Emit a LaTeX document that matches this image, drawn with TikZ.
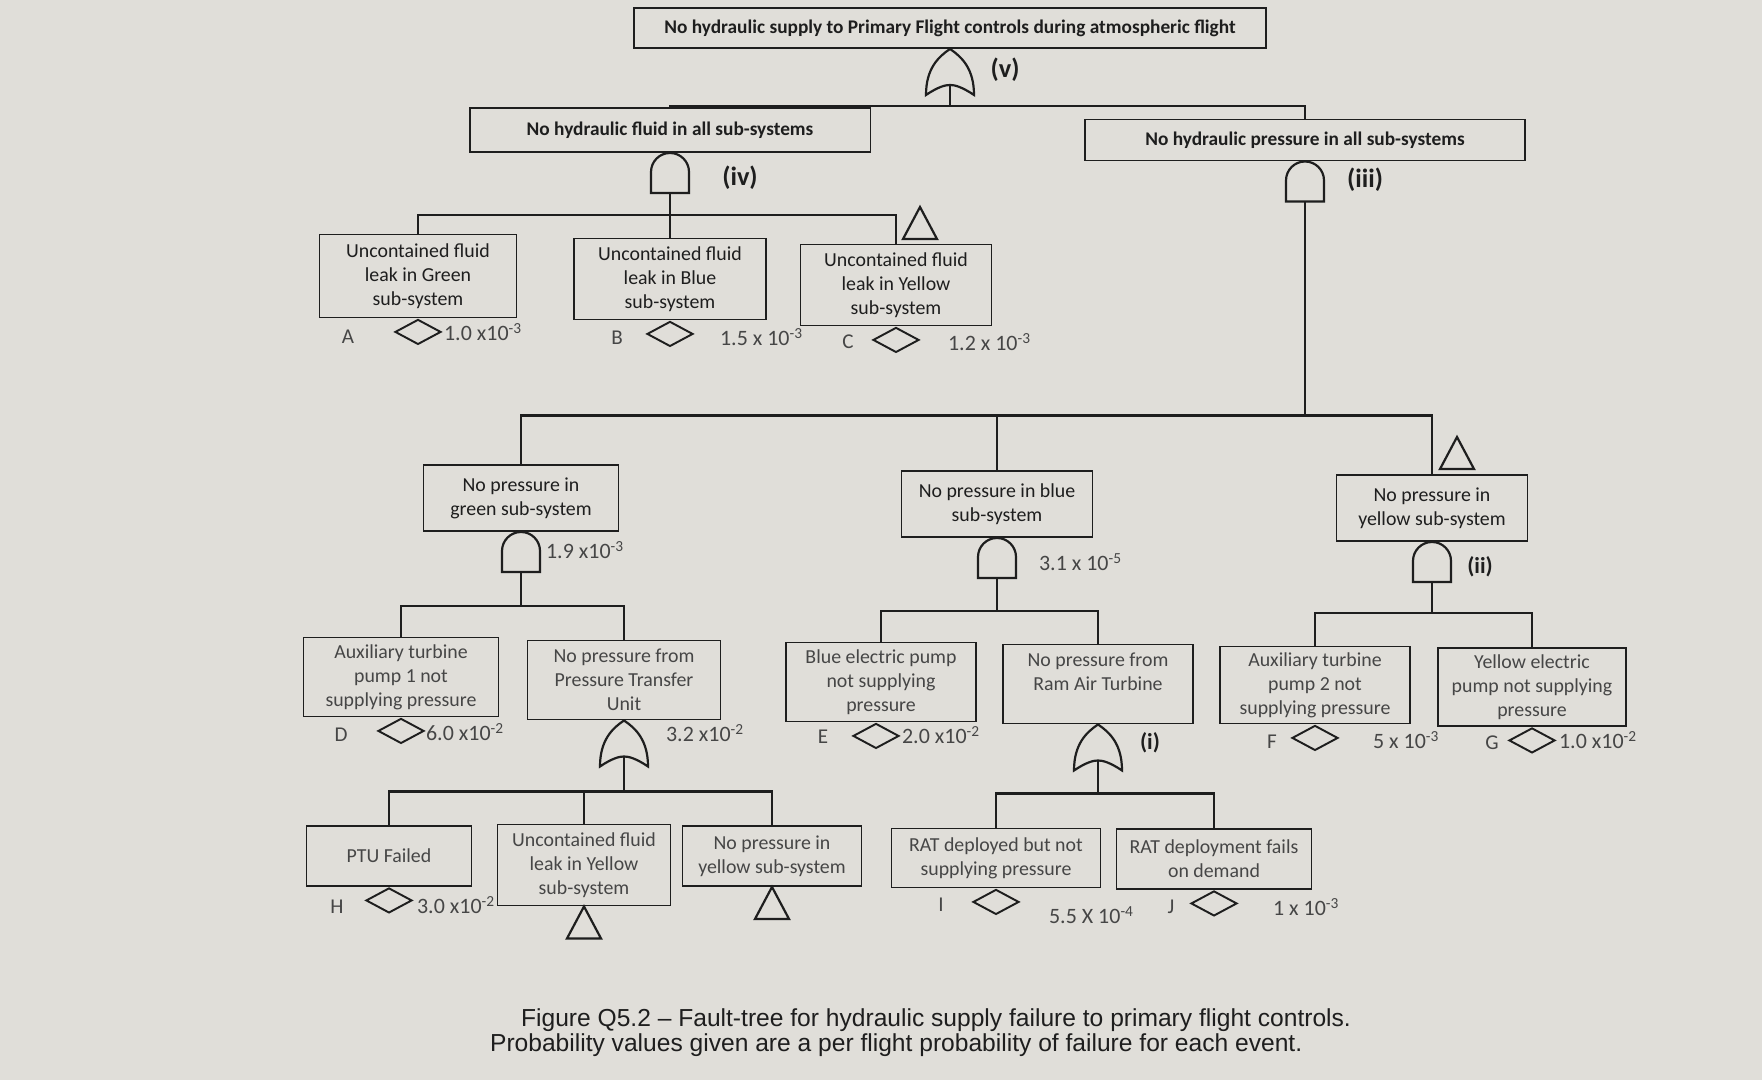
\documentclass[tikz,border=0pt]{standalone}
\usepackage{fontspec}
\setmainfont{Carlito}
\newfontfamily\capfont{Liberation Sans}
\usepackage{tikz}
\usetikzlibrary{shapes.geometric,positioning,calc}
\definecolor{ink}{RGB}{30,30,30}
\definecolor{softink}{RGB}{70,70,70}
\definecolor{paper}{RGB}{224,222,217}

\tikzset{
    andgate/.pic={
        \draw[fill=paper] (-19,40) -- (-19,19) .. controls (-19,8.5) and (-10.5,0) .. (0,0)
            .. controls (10.5,0) and (19,8.5) .. (19,19) -- (19,40) -- cycle;
        \coordinate (-out) at (0,0);
        \coordinate (-in) at (0,40);
    },
    orgate/.pic={
        \draw[fill=paper] (0,0) .. controls (-12,8) and (-24,20) .. (-24,46)
            .. controls (-12,38) and (-5,36) .. (0,36)
            .. controls (5,36) and (12,38) .. (24,46)
            .. controls (24,20) and (12,8) .. (0,0) -- cycle;
        \coordinate (-out) at (0,0);
        \coordinate (-in) at (0,36);
    },
    xfer/.pic={
        \draw (0,0) -- (17,32) -- (-17,32) -- cycle;
    }
}

\begin{document}
\begin{tikzpicture}[
    x=0.02cm, y=-0.02cm,
    line width=1.25pt, draw=ink,
    evt/.style={draw=ink, line width=1.1pt, align=center, font=\fontsize{11.3}{13.6}\selectfont, text=softink, minimum width=3.84cm, minimum height=1.6cm, inner sep=2pt},
    midevt/.style={evt, text=ink, minimum height=1.32cm},
    topevt/.style={evt, text=ink, font=\fontsize{11}{13}\selectfont\bfseries, minimum height=0.84cm},
    basic/.style={diamond, draw=ink, line width=1.1pt, minimum width=0.92cm, minimum height=0.5cm, inner sep=0pt, anchor=north},
    prob/.style={anchor=west, inner sep=0pt, font=\fontsize{12.5}{14}\selectfont, text=softink},
    tag/.style={inner sep=0pt, font=\fontsize{12}{14}\selectfont, text=softink},
    gatenum/.style={inner sep=0pt, font=\fontsize{15}{17}\selectfont\bfseries, text=ink},
    capline/.style={anchor=west, inner sep=0pt, font=\capfont\fontsize{14}{16}\selectfont, text=ink}
]
    \fill[paper] (0,0) rectangle (1762,1080);
    \useasboundingbox (0,0) rectangle (1762,1080);

    % Top event and first level
    \node[topevt, minimum width=12.66cm, minimum height=0.8cm] (top) at (950,28) {No hydraulic supply to Primary Flight controls during atmospheric flight};
    \node[topevt, minimum width=8.02cm, minimum height=0.88cm] (fluid) at (670,130) {No hydraulic fluid in all sub-systems};
    \node[topevt, minimum width=8.8cm, minimum height=0.82cm] (press) at (1305,140) {No hydraulic pressure in all sub-systems};

    % Fluid leaks
    \node[evt, text=ink, minimum width=3.94cm, minimum height=1.66cm] (evA) at (418,276) {Uncontained fluid\\leak in Green\\sub-system};
    \node[evt, text=ink, minimum height=1.62cm] (evB) at (670,279) {Uncontained fluid\\leak in Blue\\sub-system};
    \node[evt, text=ink, minimum width=3.82cm, minimum height=1.62cm] (evC) at (896,285) {Uncontained fluid\\leak in Yellow\\sub-system};

    % Pressure per sub-system
    \node[midevt, minimum width=3.9cm] (green) at (521,498) {No pressure in\\green sub-system};
    \node[midevt, minimum width=3.82cm] (blue) at (997,504) {No pressure in blue\\sub-system};
    \node[midevt, minimum width=3.82cm] (yellow) at (1432,508) {No pressure in\\yellow sub-system};

    % Pumps and sources
    \node[evt, minimum width=3.9cm, minimum height=1.58cm] (evD) at (401,677) {Auxiliary turbine\\pump 1 not\\supplying pressure};
    \node[evt, minimum width=3.86cm, minimum height=1.58cm] (ptu) at (624,680) {No pressure from\\Pressure Transfer\\Unit};
    \node[evt, minimum width=3.8cm, minimum height=1.58cm] (evE) at (881,682) {Blue electric pump\\not supplying\\pressure};
    \node[evt, minimum width=3.8cm, minimum height=1.58cm] (rat) at (1098,684) {No pressure from\\Ram Air Turbine\\~};
    \node[evt, minimum width=3.8cm, minimum height=1.54cm] (evF) at (1315,685) {Auxiliary turbine\\pump 2 not\\supplying pressure};
    \node[evt, minimum width=3.76cm, minimum height=1.56cm] (evG) at (1532,687) {Yellow electric\\pump not supplying\\pressure};

    % Bottom level
    \node[evt, minimum width=3.3cm, minimum height=1.2cm] (evH) at (389,856) {PTU Failed};
    \node[evt, minimum width=3.46cm, minimum height=1.62cm] (uy) at (584,865) {Uncontained fluid\\leak in Yellow\\sub-system};
    \node[evt, minimum width=3.58cm, minimum height=1.2cm] (npy) at (772,856) {No pressure in\\yellow sub-system};
    \node[evt, minimum width=4.18cm, minimum height=1.18cm] (evI) at (996,858) {RAT deployed but not\\supplying pressure};
    \node[evt, minimum width=3.9cm, minimum height=1.2cm] (evJ) at (1214,859) {RAT deployment fails\\on demand};

    % Gates
    \pic (g5) at (top.south) {orgate};
    \pic (g4) at (fluid.south) {andgate};
    \pic (g3) at (press.south) {andgate};
    \pic (gG) at (green.south) {andgate};
    \pic (gB) at (blue.south) {andgate};
    \pic (gY) at (yellow.south) {andgate};
    \pic (gP) at (ptu.south) {orgate};
    \pic (gR) at (rat.south) {orgate};

    \node[gatenum] (n5) at (1005,70) {(v)};
    \node[gatenum] (n4) at (740,178) {(iv)};
    \node[gatenum] (n3) at (1365,180) {(iii)};
    \node[gatenum, font=\fontsize{13}{15}\selectfont\bfseries] (n2) at (1480,567) {(ii)};
    \node[gatenum, font=\fontsize{13}{15}\selectfont\bfseries] (n1) at (1150,743) {(i)};

    % Transfer symbols
    \pic (tC) at (920,207) {xfer};
    \pic (tY) at (1457,437) {xfer};
    \pic (tUY) at (uy.south) {xfer};
    \pic (tNPY) at (npy.south) {xfer};

    % Connections
    \path (g5-in) ++(0,21) coordinate (b5);
    \draw (g5-in) -- (b5);
    \draw (fluid.north) |- (b5) -| (press.north);

    \path (g4-in) ++(0,22) coordinate (b4);
    \draw (g4-in) -- (b4);
    \draw (evA.north) |- (b4) -| (evC.north);
    \draw (b4) -- (evB.north);

    \path (g3-in) ++(0,214) coordinate (b3);
    \draw (g3-in) -- (b3);
    \draw (green.north) |- (b3) -| (yellow.north);
    \draw (blue.north) -- (blue.north |- b3);

    \path (gG-in) ++(0,34) coordinate (bG);
    \draw (gG-in) -- (bG);
    \draw (evD.north) |- (bG) -| (ptu.north);

    \path (gB-in) ++(0,33) coordinate (bB);
    \draw (gB-in) -- (bB);
    \draw (evE.north) |- (bB) -| (rat.north);

    \path (gY-in) ++(0,31) coordinate (bY);
    \draw (gY-in) -- (bY);
    \draw (evF.north) |- (bY) -| (evG.north);

    \path (gP-in) ++(0,35) coordinate (bP);
    \draw (gP-in) -- (bP);
    \draw (evH.north) |- (bP) -| (npy.north);
    \draw (uy.north) -- (uy.north |- bP);

    \path (gR-in) ++(0,33) coordinate (bR);
    \draw (gR-in) -- (bR);
    \draw (evI.north) |- (bR) -| (evJ.north);

    % Basic events
    \node[basic] (dA) at (evA.south) {};
    \node[basic] (dB) at (evB.south) {};
    \node[basic] (dC) at (evC.south) {};
    \node[basic] (dD) at (evD.south) {};
    \node[basic, xshift=-0.1cm] (dE) at (evE.south) {};
    \node[basic] (dF) at (evF.south) {};
    \node[basic] (dG) at (evG.south) {};
    \node[basic] (dH) at (evH.south) {};
    \node[basic] (dI) at (evI.south) {};
    \node[basic] (dJ) at (evJ.south) {};

    \node[tag] (lA) at (348,337) {A};
    \node[tag] (lB) at (617,338) {B};
    \node[tag] (lC) at (848,342) {C};
    \node[tag] (lD) at (341,735) {D};
    \node[tag] (lE) at (823,737) {E};
    \node[tag] (lF) at (1272,742) {F};
    \node[tag] (lG) at (1492,743) {G};
    \node[tag] (lH) at (337,907) {H};
    \node[tag] (lI) at (941,905) {I};
    \node[tag] (lJ) at (1171,907) {J};

    % Probabilities
    \node[prob] (vA) at (443,332) {1.0 x10\textsuperscript{-3}};
    \node[prob] (vB) at (719,337) {1.5 x 10\textsuperscript{-3}};
    \node[prob] (vC) at (947,342) {1.2 x 10\textsuperscript{-3}};
    \node[prob] (vGr) at (545,550) {1.9 x10\textsuperscript{-3}};
    \node[prob] (vBl) at (1038,562) {3.1 x 10\textsuperscript{-5}};
    \node[prob] (vD) at (425,732) {6.0 x10\textsuperscript{-2}};
    \node[prob] (vP) at (665,733) {3.2 x10\textsuperscript{-2}};
    \node[prob] (vE) at (901,735) {2.0 x10\textsuperscript{-2}};
    \node[prob] (vF) at (1372,740) {5 x 10\textsuperscript{-3}};
    \node[prob] (vG) at (1558,740) {1.0 x10\textsuperscript{-2}};
    \node[prob] (vH) at (416,905) {3.0 x10\textsuperscript{-2}};
    \node[prob] (vI) at (1048,915) {5.5 X 10\textsuperscript{-4}};
    \node[prob] (vJ) at (1272,907) {1 x 10\textsuperscript{-3}};

    % Caption
    \node[capline] (cap1) at (520,1020) {Figure Q5.2 – Fault-tree for hydraulic supply failure to primary flight controls.};
    \node[capline] (cap2) at (489,1045) {Probability values given are a per flight probability of failure for each event.};
\end{tikzpicture}
\end{document}
